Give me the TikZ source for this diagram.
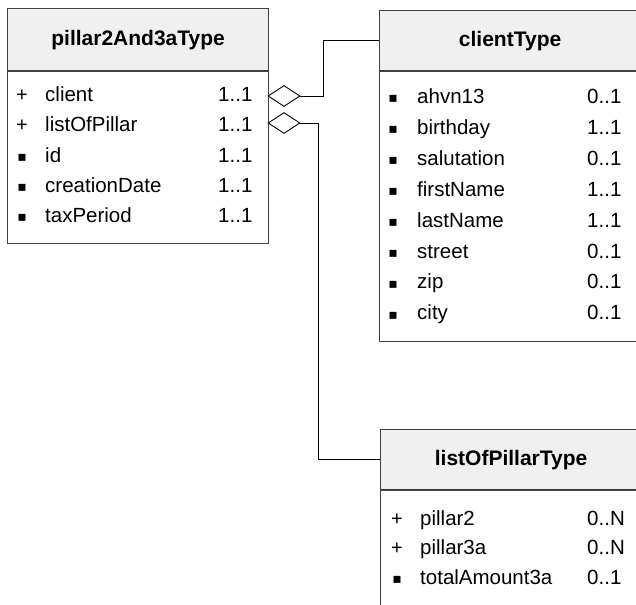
\documentclass[tikz,border=0pt]{standalone}
\usepackage{fontspec}
\setmainfont{Liberation Sans}
\newfontfamily\symfont{DejaVu Sans}
\usetikzlibrary{shapes.geometric}
\definecolor{bordergray}{HTML}{404040}
\definecolor{headfill}{HTML}{F0F0F0}
\newcommand{\bul}{\raisebox{0.5pt}{\symfont\fontsize{14}{14}\selectfont ▪}}
\begin{document}
\begin{tikzpicture}[x=1pt,y=-1pt,
  hdr/.style={rectangle, draw=bordergray, fill=headfill, line width=1.2pt, anchor=north west, inner sep=0pt, font=\fontsize{21}{21}\selectfont\bfseries},
  body/.style={rectangle, draw=bordergray, fill=white, line width=1.2pt, anchor=north west, inner sep=0pt},
  txt/.style={anchor=base west, inner sep=0pt, font=\fontsize{20.5}{20.5}\selectfont},
  sym/.style={anchor=base, inner sep=0pt, font=\fontsize{20}{20}\selectfont},
  conn/.style={draw=black, line width=0.9pt},
  agg/.style={diamond, draw=black, fill=white, line width=0.9pt, minimum width=32pt, minimum height=21pt, inner sep=0pt}]
\useasboundingbox (0,0) rectangle (636,604);
\clip (0,0) rectangle (636,604);
\fill[white] (0,0) rectangle (636,604);

% box 1
\node[hdr, minimum width=261pt, minimum height=62pt] (p1h) at (7,8) {pillar2And3aType};
\node[body, minimum width=261pt, minimum height=172pt] (p1b) at (p1h.south west) {};
\foreach \s/\n/\m [count=\i from 0] in {+/client/1..1, +/listOfPillar/1..1, \bul/id/1..1, \bul/creationDate/1..1, \bul/taxPeriod/1..1}{
  \pgfmathsetmacro\yy{102+30*\i}
  \node[sym] (p1s\i) at (22,\yy) {\s};
  \node[txt] (p1n\i) at (45,\yy) {\n};
  \node[txt] (p1m\i) at (218,\yy) {\m};
}

% box 2
\node[hdr, minimum width=261pt, minimum height=60pt] (c2h) at (379,10) {clientType};
\node[body, minimum width=261pt, minimum height=270pt] (c2b) at (c2h.south west) {};
\foreach \n/\m [count=\i from 0] in {ahvn13/0..1, birthday/1..1, salutation/0..1, firstName/1..1, lastName/1..1, street/0..1, zip/0..1, city/0..1}{
  \pgfmathsetmacro\yy{103.5+30.9*\i}
  \node[sym] (c2s\i) at (393,\yy) {\bul};
  \node[txt] (c2n\i) at (417,\yy) {\n};
  \node[txt] (c2m\i) at (587,\yy) {\m};
}

% box 3
\node[hdr, minimum width=261pt, minimum height=60pt] (c3h) at (380,429) {listOfPillarType};
\node[body, minimum width=261pt, minimum height=200pt] (c3b) at (c3h.south west) {};
\foreach \s/\n/\m [count=\i from 0] in {+/pillar2/0..N, +/pillar3a/0..N, \bul/totalAmount3a/0..1}{
  \pgfmathsetmacro\yy{525+29.5*\i}
  \node[sym] (c3s\i) at (397,\yy) {\s};
  \node[txt] (c3n\i) at (420,\yy) {\n};
  \node[txt] (c3m\i) at (587,\yy) {\m};
}

% aggregations
\node[agg] (d1) at (284,96) {};
\node[agg] (d2) at (284,123) {};
\draw[conn] (d1.east) -- ++(23,0) |- (c2h.west);
\draw[conn] (d2.east) -- ++(18,0) |- (c3h.west);
\end{tikzpicture}
\end{document}
